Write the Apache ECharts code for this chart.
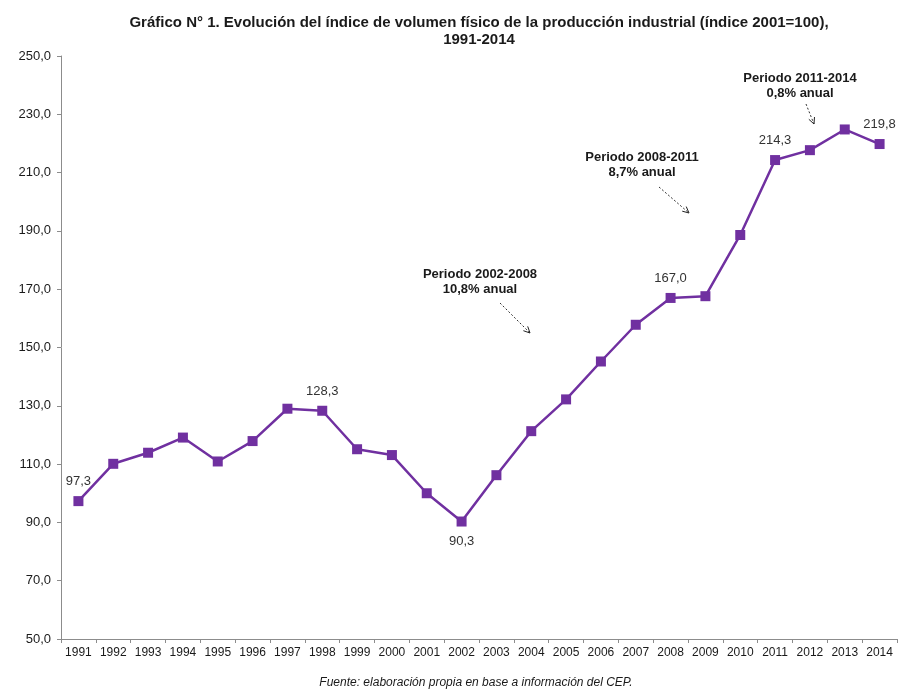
<!DOCTYPE html>
<html>
<head>
<meta charset="utf-8">
<script src="https://cdn.jsdelivr.net/npm/echarts@6/dist/echarts.min.js"></script>
<style>
  html, body { margin: 0; padding: 0; background: #fff; }
  #chart { width: 900px; height: 693px; }
</style>
</head>
<body>
<div id="chart"></div>
<script>
// Índice de volumen físico de la producción industrial (2001 = 100)
const years = ['1991','1992','1993','1994','1995','1996','1997','1998','1999','2000',
               '2001','2002','2003','2004','2005','2006','2007','2008','2009','2010',
               '2011','2012','2013','2014'];
const indexValues = [97.3, 110.1, 113.9, 119.1, 110.9, 117.9, 129.0, 128.3, 115.1, 113.1,
                     100.0, 90.3, 106.2, 121.3, 132.2, 145.2, 157.8, 167.0, 167.6, 188.6,
                     214.3, 217.7, 224.8, 219.8];
// Años cuyo valor se rotula sobre la serie
const labeledYears = ['1991', '1998', '2002', '2008', '2011', '2014'];
const yTicks = [50, 70, 90, 110, 130, 150, 170, 190, 210, 230, 250];

const FONT = '"Liberation Sans", Arial, sans-serif';
const PURPLE = '#7030A0';

const fmt = v => v.toFixed(1).replace('.', ',');

const seriesData = indexValues.map((v, i) => {
  const item = { value: v };
  if (labeledYears.includes(years[i])) {
    item.label = {
      show: true,
      position: years[i] === '2002' ? 'bottom' : 'top',
      distance: 8,
      formatter: p => fmt(p.value)
    };
  }
  return item;
});

// Anotaciones de tasas por período con su flecha punteada
function note(cx, cy, l1, l2) {
  return {
    type: 'text', x: cx, y: cy,
    style: {
      text: l1 + '\n' + l2, align: 'center', verticalAlign: 'middle',
      font: 'bold 13px ' + FONT, fill: '#1a1a1a', lineHeight: 15
    }
  };
}
function arrow(x1, y1, x2, y2) {
  const a = Math.atan2(y2 - y1, x2 - x1), h = 7, s = 0.45;
  return [
    { type: 'line', shape: { x1, y1, x2, y2 },
      style: { stroke: '#333', lineWidth: 1, lineDash: [2, 2] } },
    { type: 'polyline',
      shape: { points: [
        [x2 - h * Math.cos(a - s), y2 - h * Math.sin(a - s)],
        [x2, y2],
        [x2 - h * Math.cos(a + s), y2 - h * Math.sin(a + s)]
      ] },
      style: { stroke: '#222', lineWidth: 1, fill: null } }
  ];
}

const chart = echarts.init(document.getElementById('chart'), null, { renderer: 'canvas' });
chart.setOption({
  backgroundColor: '#fff',
  animation: false,
  textStyle: { fontFamily: FONT },
  title: {
    text: 'Gráfico N° 1. Evolución del índice de volumen físico de la producción industrial (índice 2001=100),\n1991-2014',
    left: 474, top: 9, textAlign: 'center',
    textStyle: { fontFamily: FONT, fontSize: 15, fontWeight: 'bold', color: '#1a1a1a', lineHeight: 17 }
  },
  grid: { left: 61, right: 3, top: 56, bottom: 54, containLabel: false },
  xAxis: {
    type: 'category',
    data: years,
    boundaryGap: true,
    axisLine: { lineStyle: { color: '#8c8c8c', width: 1 } },
    axisTick: { show: true, alignWithLabel: false, length: 4, lineStyle: { color: '#8c8c8c' } },
    axisLabel: { color: '#1a1a1a', fontSize: 12, margin: 8, interval: 0 }
  },
  yAxis: {
    type: 'value',
    min: yTicks[0], max: yTicks[yTicks.length - 1], interval: 20,
    axisLine: { show: true, lineStyle: { color: '#8c8c8c', width: 1 } },
    axisTick: { show: true, length: 4, lineStyle: { color: '#8c8c8c' } },
    splitLine: { show: false },
    axisLabel: { color: '#1a1a1a', fontSize: 13, margin: 10, formatter: v => fmt(v) }
  },
  series: [{
    type: 'line',
    data: seriesData,
    symbol: 'rect',
    symbolSize: 10,
    lineStyle: { color: PURPLE, width: 2.5 },
    itemStyle: { color: PURPLE },
    label: { color: '#333', fontSize: 13, fontFamily: FONT },
    z: 3
  }],
  graphic: [
    note(480, 282, 'Periodo 2002-2008', '10,8% anual'),
    ...arrow(500, 303, 530, 333),
    note(642, 165, 'Periodo 2008-2011', '8,7% anual'),
    ...arrow(659, 187, 689, 213),
    note(800, 86, 'Periodo 2011-2014', '0,8% anual'),
    ...arrow(806, 104, 814, 124),
    {
      type: 'text', x: 476, y: 683,
      style: {
        text: 'Fuente: elaboración propia en base a información del CEP.',
        font: 'italic 12px ' + FONT, fill: '#1a1a1a', align: 'center', verticalAlign: 'middle'
      }
    }
  ]
});
</script>
</body>
</html>
